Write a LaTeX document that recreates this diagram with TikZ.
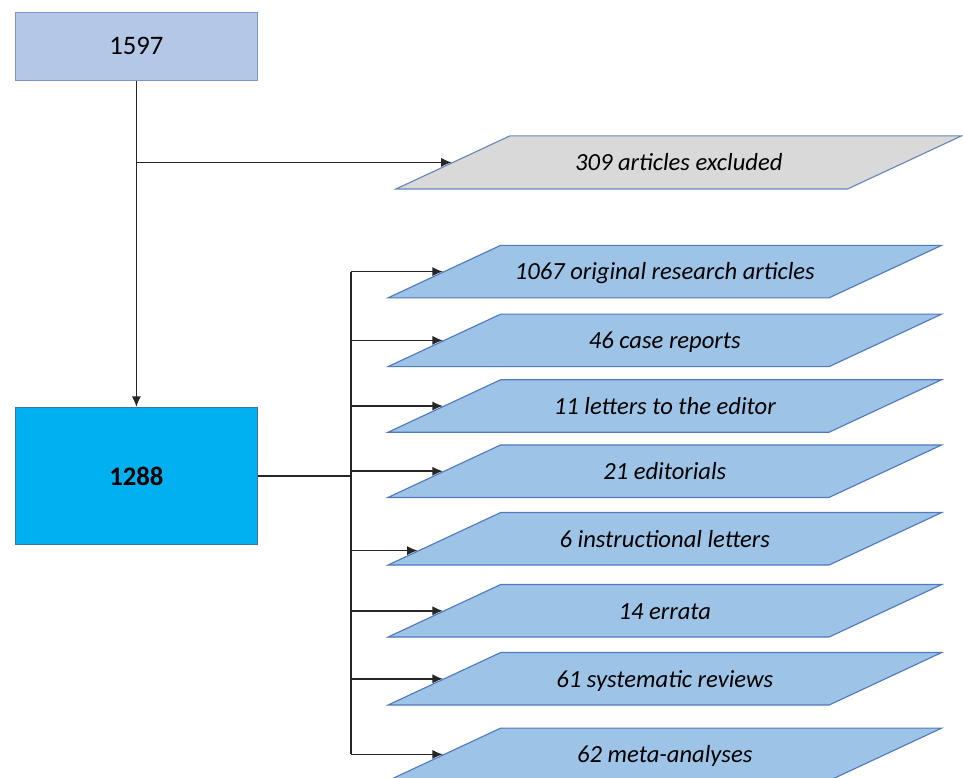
\documentclass[tikz,border=0pt]{standalone}
\usepackage{fontspec}
\setmainfont{Carlito}
\usepackage{xcolor}
\usetikzlibrary{shapes.geometric,arrows.meta,positioning,calc}

\definecolor{startfill}{HTML}{B4C7E7}
\definecolor{startline}{HTML}{7C96C6}
\definecolor{keptfill}{HTML}{00B0F0}
\definecolor{keptline}{HTML}{41719C}
\definecolor{catfill}{HTML}{9DC3E6}
\definecolor{catline}{HTML}{5079BE}
\definecolor{exclfill}{HTML}{D9D9D9}
\definecolor{exclline}{HTML}{6A86B8}
\definecolor{linegray}{HTML}{262626}

\begin{document}
\begin{tikzpicture}[
      box/.style={rectangle, draw, line width=0.8pt, minimum width=6.05cm,
                  align=center, inner sep=0pt, font=\fontsize{19}{22}\selectfont},
      start/.style={box, fill=startfill, draw=startline, minimum height=1.71cm},
      kept/.style={box, fill=keptfill, draw=keptline, minimum height=3.425cm,
                   font=\fontsize{19}{22}\selectfont\bfseries},
      para/.style={trapezium, trapezium left angle=25, trapezium right angle=155,
                   trapezium stretches body=true, draw, line width=0.8pt,
                   inner xsep=0pt, text height=14.4pt, text depth=2.6pt,
                   minimum width=13.84cm, inner ysep=10.17pt,
                   font=\fontsize{17.5}{20}\selectfont\itshape},
      cat/.style={para, fill=catfill, draw=catline},
      excl/.style={para, fill=exclfill, draw=exclline,
                   minimum width=14.14cm, inner ysep=10.4pt},
      arr/.style={-{Latex[length=7.5pt,width=6.5pt]}, line width=1.1pt, draw=linegray},
      link/.style={line width=1.1pt, draw=linegray},
    ]
    \clip (0,0) rectangle (24.075,-19.425);

    % Records before and after exclusion
    \node[start] (n1597) at (3.41,-1.16) {1597};
    \node[kept]  (n1288) at (3.41,-11.9) {1288};

    % Excluded articles
    \node[excl] (excl) at (16.97,-4.06) {309 articles excluded};

    % Article types
    \node[cat] (orig)   at (16.62,-6.79)  {1067 original research articles};
    \node[cat] (case)   at (16.62,-8.51)  {46 case reports};
    \node[cat] (letter) at (16.62,-10.15) {11 letters to the editor};
    \node[cat] (edit)   at (16.62,-11.78) {21 editorials};
    \node[cat] (instr)  at (16.62,-13.47) {6 instructional letters};
    \node[cat] (errata) at (16.62,-15.27) {14 errata};
    \node[cat] (sysrev) at (16.62,-16.97) {61 systematic reviews};
    \node[cat] (meta)   at (16.62,-18.86) {62 meta-analyses};

    % Entry points on the slanted left sides
    \coordinate (excl-in) at ($(excl.bottom left corner)!0.5!(excl.top left corner)$);
    \foreach \c in {orig,case,letter,edit,errata,sysrev,meta}
      \coordinate (\c-in) at ($(\c.bottom left corner)!0.5!(\c.top left corner)$);
    \coordinate (instr-in) at ($(instr.bottom left corner)!0.28!(instr.top left corner)$);

    % Arrows: screening
    \draw[arr] (n1597) -- (n1288);
    \draw[arr] (n1597.south |- excl-in) -- (excl-in);

    % Trunk from 1288 to the article types
    \coordinate (trunk) at (8.77,0);
    \draw[link, line width=1.6pt] (n1288.east) -- (n1288.east -| trunk);
    \draw[link] (trunk |- orig-in) -- (trunk |- meta-in);

    % Arrows: trunk to article types
    \foreach \c in {orig,case,letter,edit,instr,errata,sysrev,meta}
      \draw[arr] (trunk |- \c-in) -- (\c-in);

    \end{tikzpicture}
\end{document}
